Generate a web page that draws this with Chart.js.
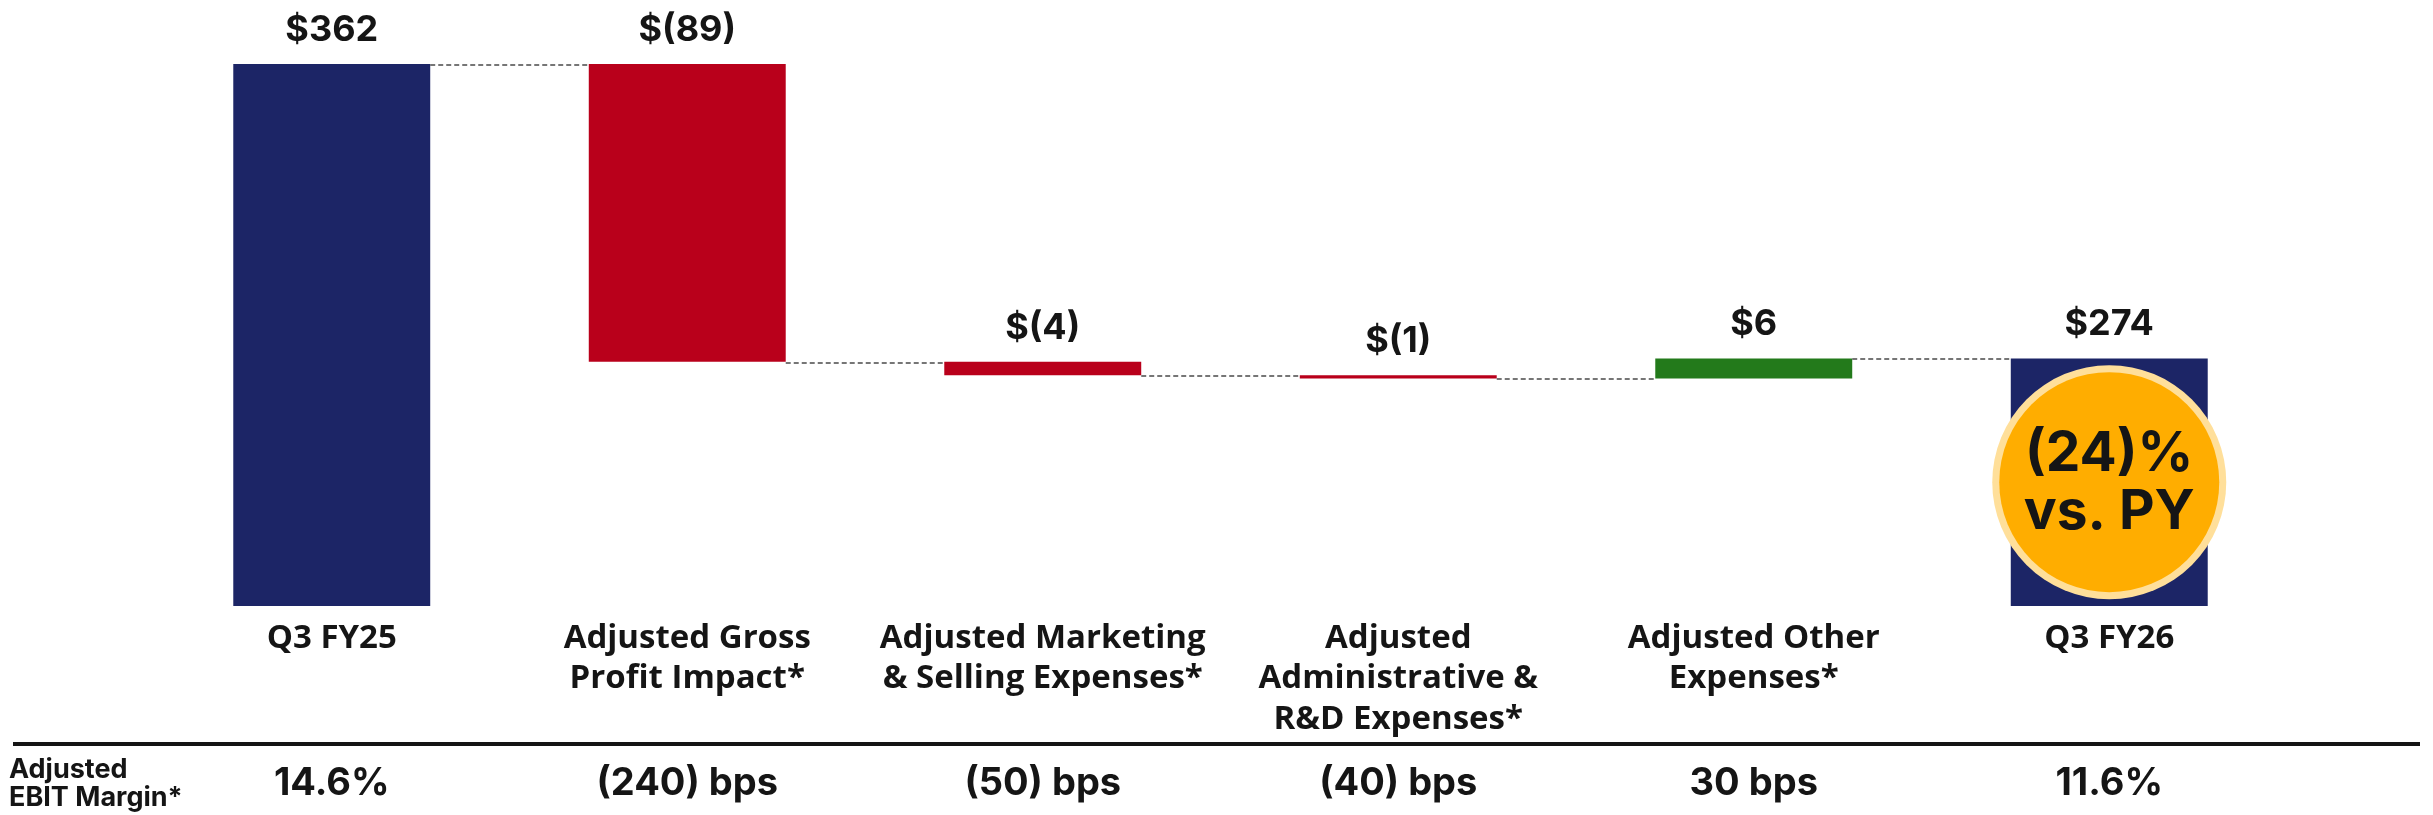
<!DOCTYPE html>
<html lang="en">
  <head>
    <meta charset="UTF-8" />
    <title>Adjusted EBIT Bridge</title>
    <script src="https://cdn.jsdelivr.net/npm/chart.js"></script>
    <style>
      * {
        margin: 0;
        padding: 0;
        box-sizing: border-box;
      }

      body {
        background: #ffffff;
      }

      #chartBox {
        width: 2433px;
        height: 815px;
        position: relative;
      }
    </style>
  </head>
  <body>
    <div id="chartBox">
      <canvas id="bridgeChart"></canvas>
    </div>
    <script>
      // categories (multi-line tick labels)
      const categories = [
        ["Q3 FY25"],
        ["Adjusted Gross", "Profit Impact*"],
        ["Adjusted Marketing", "& Selling Expenses*"],
        ["Adjusted", "Administrative &", "R&D Expenses*"],
        ["Adjusted Other", "Expenses*"],
        ["Q3 FY26"],
      ];

      // values ($M)
      const startValue = 362;
      const deltas = [-89, -4, -1, 6];
      const endValue = 274;
      const axisFloor = 200;

      const valueLabels = ["$362", "$(89)", "$(4)", "$(1)", "$6", "$274"];
      const marginTitle = ["Adjusted", "EBIT Margin*"];
      const marginLabels = ["14.6%", "(240) bps", "(50) bps", "(40) bps", "30 bps", "11.6%"];
      const badgeLines = ["(24)%", "vs. PY"];
      const badgeLevel = 237;

      const NAVY = "#1c2566";
      const RED = "#b9001b";
      const GREEN = "#237a1b";
      const FONT = "Inter, 'Open Sans', sans-serif";
      const TICK_FONT = "'Open Sans', Inter, sans-serif";

      // build floating bars + running totals
      const ranges = [[axisFloor, startValue]];
      const colors = [NAVY];
      const runningTotals = [startValue];
      let total = startValue;
      deltas.forEach((d) => {
        const next = total + d;
        ranges.push([Math.min(total, next), Math.max(total, next)]);
        colors.push(d < 0 ? RED : GREEN);
        total = next;
        runningTotals.push(total);
      });
      ranges.push([axisFloor, endValue]);
      colors.push(NAVY);

      const overlay = {
        id: "overlay",
        afterDatasetsDraw(chart) {
          const { ctx } = chart;
          const x = chart.scales.x;
          const y = chart.scales.y;
          const bars = chart.getDatasetMeta(0).data;
          ctx.save();

          // dashed connectors
          ctx.strokeStyle = "#4a4a4a";
          ctx.lineWidth = 1.6;
          ctx.setLineDash([5, 3]);
          for (let i = 0; i < bars.length - 1; i++) {
            const a = bars[i];
            const b = bars[i + 1];
            const py = Math.round(y.getPixelForValue(runningTotals[i])) + 1;
            ctx.beginPath();
            ctx.moveTo(a.x + a.width / 2, py);
            ctx.lineTo(b.x - b.width / 2, py);
            ctx.stroke();
          }
          ctx.setLineDash([]);

          // value labels above bars
          ctx.fillStyle = "#151515";
          ctx.textAlign = "center";
          ctx.textBaseline = "alphabetic";
          ctx.font = "700 36px " + FONT;
          bars.forEach((bar, i) => {
            const top = Math.min(bar.y, bar.base);
            ctx.fillText(valueLabels[i], bar.x, top - 23);
          });

          // badge circle on last bar
          const cx = x.getPixelForValue(categories.length - 1);
          const cy = y.getPixelForValue(badgeLevel);
          ctx.beginPath();
          ctx.arc(cx, cy, 117, 0, Math.PI * 2);
          ctx.fillStyle = "#ffdf9a";
          ctx.fill();
          ctx.beginPath();
          ctx.arc(cx, cy, 110, 0, Math.PI * 2);
          ctx.fillStyle = "#ffad00";
          ctx.fill();
          ctx.fillStyle = "#151515";
          ctx.font = "700 55px " + FONT;
          ctx.fillText(badgeLines[0], cx, cy - 11);
          ctx.fillText(badgeLines[1], cx, cy + 47);

          // margin row
          ctx.fillStyle = "#151515";
          ctx.fillRect(13, 742, 2407, 4);
          ctx.textAlign = "left";
          ctx.font = "700 27px " + FONT;
          ctx.fillText(marginTitle[0], 9, 778);
          ctx.fillText(marginTitle[1], 9, 806);
          ctx.textAlign = "center";
          ctx.font = "700 38px " + FONT;
          bars.forEach((bar, i) => {
            ctx.fillText(marginLabels[i], bar.x, 795);
          });

          ctx.restore();
        },
      };

      const ctx = document.getElementById("bridgeChart").getContext("2d");
      const bridgeChart = new Chart(ctx, {
        type: "bar",
        data: {
          labels: categories,
          datasets: [
            {
              data: ranges,
              backgroundColor: colors,
              borderWidth: 0,
              barPercentage: 0.554,
              categoryPercentage: 1,
            },
          ],
        },
        options: {
          responsive: true,
          maintainAspectRatio: false,
          animation: false,
          layout: {
            padding: { left: 154, right: 146, top: 64, bottom: 0 },
          },
          plugins: {
            legend: { display: false },
            tooltip: { enabled: false },
          },
          scales: {
            x: {
              grid: { display: false, drawTicks: false },
              border: { display: false },
              ticks: {
                color: "#151515",
                padding: 12,
                font: { family: TICK_FONT, size: 33, weight: "700", lineHeight: 1.227 },
              },
              afterFit: (scale) => {
                scale.height = 209;
              },
            },
            y: {
              display: false,
              min: axisFloor,
              max: startValue,
            },
          },
        },
        plugins: [overlay],
      });
    </script>
  </body>
</html>
